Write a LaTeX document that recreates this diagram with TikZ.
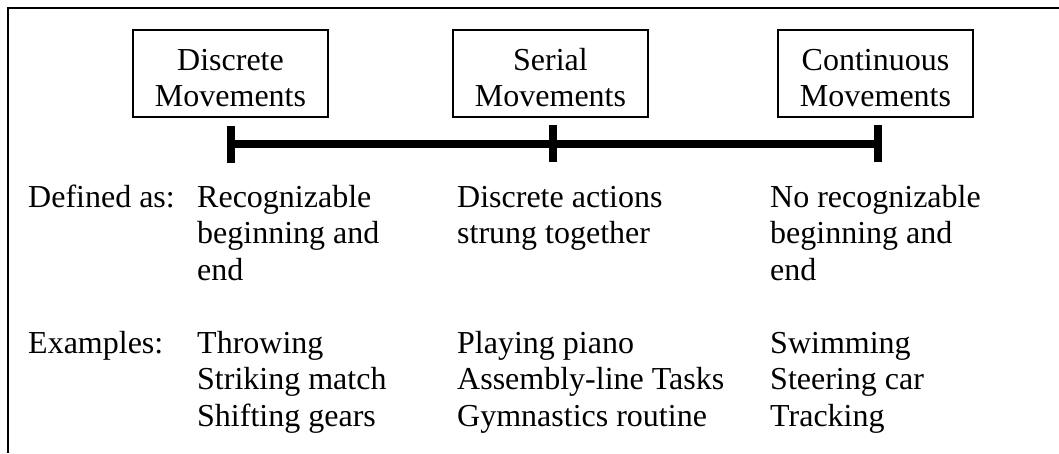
\documentclass[tikz,border=0pt]{standalone}
\usepackage{fontspec}
\setmainfont{Liberation Serif}
\begin{document}
\begin{tikzpicture}[x=1pt,y=-1pt,
  txt/.style={anchor=base west,inner sep=0pt,font=\fontsize{32}{36.8}\selectfont},
  movebox/.style={draw,line width=1.3pt,inner sep=0pt,anchor=base,
    minimum width=195pt,text height=40pt,text depth=47pt,
    font=\fontsize{32}{36.8}\selectfont},
  bar/.style={line width=8pt}]
\useasboundingbox (0,0) rectangle (1059,453);
% frame
\coordinate (ftr) at (1059,8);
\coordinate (ftl) at (8,8);
\coordinate (fbl) at (8,453);
\draw[line width=1.6pt] (ftr) -- (ftl) -- (fbl);
% boxes
\node[movebox] (disc) at (230.5,70) {\begin{tabular}[t]{@{}c@{}}Discrete\\Movements\end{tabular}};
\node[movebox] (ser) at (550.5,70) {\begin{tabular}[t]{@{}c@{}}Serial\\Movements\end{tabular}};
\node[movebox] (cont) at (875.5,70) {\begin{tabular}[t]{@{}c@{}}Continuous\\Movements\end{tabular}};
% timeline
\coordinate (t1) at (231,144);
\coordinate (t2) at (553,144);
\coordinate (t3) at (878,144);
\coordinate (t1a) at (231,126);
\coordinate (t1b) at (231,163);
\coordinate (t2a) at (553,125);
\coordinate (t2b) at (553,162);
\coordinate (t3a) at (878,125);
\coordinate (t3b) at (878,162);
\draw[bar] (t1) -- (t3);
\draw[bar] (t1a) -- (t1b);
\draw[bar] (t2a) -- (t2b);
\draw[bar] (t3a) -- (t3b);
% definitions
\node[txt] (deflab) at (28,207) {Defined as:};
\node[txt] (def1) at (197,207) {\begin{tabular}[t]{@{}l@{}}Recognizable\\beginning and\\end\end{tabular}};
\node[txt] (def2) at (457,207) {\begin{tabular}[t]{@{}l@{}}Discrete actions\\strung together\end{tabular}};
\node[txt] (def3) at (770,207) {\begin{tabular}[t]{@{}l@{}}No recognizable\\beginning and\\end\end{tabular}};
% examples
\node[txt] (exlab) at (28,353) {Examples:};
\node[txt] (ex1) at (197,353) {\begin{tabular}[t]{@{}l@{}}Throwing\\Striking match\\Shifting gears\end{tabular}};
\node[txt] (ex2) at (457,353) {\begin{tabular}[t]{@{}l@{}}Playing piano\\Assembly-line Tasks\\Gymnastics routine\end{tabular}};
\node[txt] (ex3) at (770,353) {\begin{tabular}[t]{@{}l@{}}Swimming\\Steering car\\Tracking\end{tabular}};
\end{tikzpicture}
\end{document}
